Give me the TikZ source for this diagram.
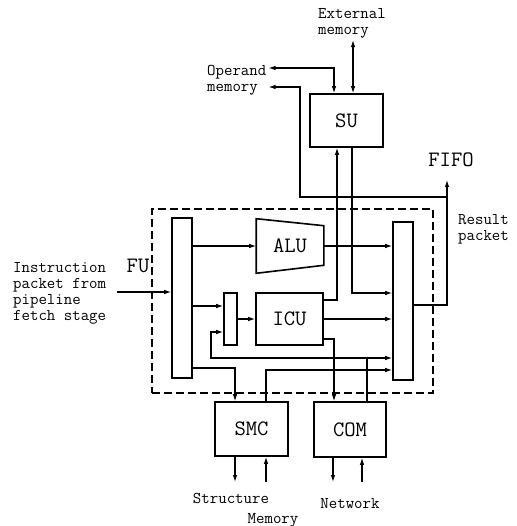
\documentclass[tikz,border=0pt]{standalone}
\usetikzlibrary{arrows.meta, positioning}
\usetikzlibrary{calc}

\begin{document}
\begin{tikzpicture}[x=1pt, y=-1pt,
    >={Latex[length=7pt,width=4.5pt]},
    blk/.style={draw, line width=1.6pt, inner sep=0pt, font=\ttfamily\fontsize{22}{24}\selectfont},
    big/.style={inner sep=1pt, font=\ttfamily\fontsize{22}{24}\selectfont},
    lbl/.style={align=left, inner sep=2pt, font=\ttfamily\fontsize{16.4}{16}\selectfont},
    wire/.style={line width=1.1pt},
    fubox/.style={draw, line width=1.1pt, dash pattern=on 8pt off 4pt}]

    \useasboundingbox (0,0) rectangle (516,526);

    % FU frame
    \node[fubox, minimum width=281pt, minimum height=184pt] (fu) at (292.5,301) {};
    \node[big] (fulbl) at (138,266) {FU};

    % blocks
    \node[blk, minimum width=73pt, minimum height=53pt] (su) at (346.5,120.5) {SU};
    \node[blk, minimum width=20pt, minimum height=160pt] (inmux) at (182,298) {};
    \node[blk, minimum width=13pt, minimum height=52pt] (smallmux) at (230.5,319) {};
    \node[blk, minimum width=67pt, minimum height=52pt] (icu) at (289.5,319) {ICU};
    \node[blk, minimum width=20pt, minimum height=158pt] (outmux) at (403,301) {};
    \node[blk, minimum width=73pt, minimum height=54pt] (smc) at (251.5,429) {SMC};
    \node[blk, minimum width=72pt, minimum height=55pt] (com) at (350,429.5) {COM};

    % ALU trapezoid
    \node[blk, draw=none, minimum width=66pt, minimum height=53pt] (alu) at (290,246) {ALU};
    \draw[line width=1.6pt] (alu.north west) -- ([yshift=-7pt]alu.north east)
        -- ([yshift=8pt]alu.south east) -- (alu.south west) -- cycle;

    % texts
    \node[lbl, anchor=west] (extmem) at (316,23) {External\\memory};
    \node[lbl, anchor=west] (opmem) at (205,80) {Operand\\memory};
    \node[big] (fifo) at (451,160) {FIFO};
    \node[lbl, anchor=west] (result) at (456,229) {Result\\packet};
    \node[lbl, anchor=west] (instr) at (11,293.5) {Instruction\\packet from\\pipeline\\fetch stage};
    \node[lbl] (struct) at (231,498) {Structure};
    \node[lbl] (mem) at (273,520) {Memory};
    \node[lbl] (net) at (350,504) {Network};

    % instruction in
    \coordinate (instrin) at (117,292);
    \draw[wire, ->] (instrin) -- (inmux.west |- instrin);

    % inside FU
    \draw[wire, ->] (inmux.east |- alu) -- (alu.west);
    \draw[wire, ->] (inmux.east |- 0,306) -- (smallmux.west |- 0,306);
    \draw[wire, ->] (smallmux.east) -- (icu.west);
    \draw[wire, ->] (alu.east) -- (outmux.west |- alu.east);
    \draw[wire, ->] (icu.east) -- (outmux.west |- icu.east);

    % ICU to SU, SU to output
    \draw[wire, ->] (icu.east |- 0,300) -| (su.south -| 337,0);
    \draw[wire, ->] (su.south -| 352,0) |- (outmux.west |- 0,293);

    % ICU to COM, fetch to SMC, SMC to output
    \draw[wire, ->] (icu.east |- 0,339) -| (com.north -| 334,0);
    \draw[wire, ->] (inmux.east |- 0,368) -| (smc.north -| 235,0);
    \draw[wire, ->] (smc.north -| 266,0) |- (outmux.west |- 0,370);

    % COM back in
    \coordinate (comjoin) at (367,358);
    \draw[wire, ->] (com.north -| comjoin) -- (comjoin) -- (211,358) -- (211,332)
        -- (smallmux.west |- 0,332);
    \draw[wire, ->] (comjoin) -- (outmux.west |- comjoin);

    % result packet
    \coordinate (fifojoin) at (447,197);
    \draw[wire, ->] (outmux.east |- 0,305) -| (fifojoin) -- (447,180);
    \draw[wire, ->] (fifojoin) -- (300,197) -- (300,87) -- (opmem.east |- 0,87);

    % memories
    \draw[wire, <->] (opmem.east |- 0,68) -| (su.north -| 334,0);
    \draw[wire, <->] (extmem.south -| 353,0) -- (su.north -| 353,0);

    % SMC and COM ports
    \draw[wire, ->] (smc.south -| 235,0) -- (235,482);
    \draw[wire, ->] (266,482) -- (smc.south -| 266,0);
    \draw[wire, ->] (com.south -| 333,0) -- (333,482);
    \draw[wire, ->] (362,482) -- (com.south -| 362,0);
\end{tikzpicture}
\end{document}
